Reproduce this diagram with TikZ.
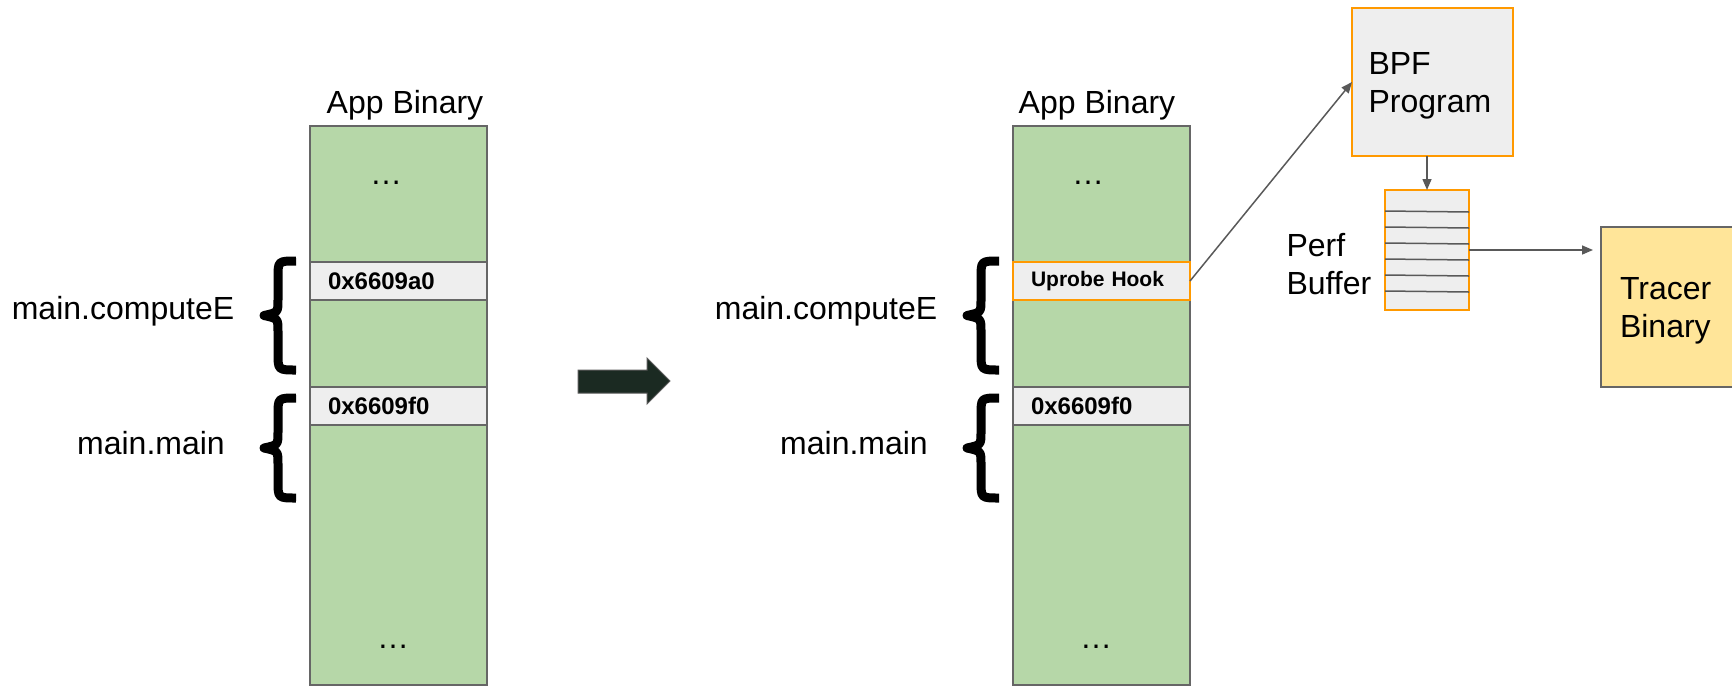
\documentclass[tikz,border=0pt]{standalone}
\usepackage{fontspec}
\setmainfont{Liberation Sans}
\usetikzlibrary{arrows.meta}
\definecolor{binGreen}{RGB}{182,215,168}
\definecolor{boxGray}{RGB}{238,238,238}
\definecolor{edgeGray}{RGB}{102,102,102}
\definecolor{hookOrange}{RGB}{255,153,0}
\definecolor{tracerYellow}{RGB}{255,229,153}
\definecolor{arrowDark}{RGB}{27,42,34}
\definecolor{connGray}{RGB}{89,89,89}
\newcommand\mybrace[3]{%
  \draw[line width=9pt, line join=round]
    ({#1+36},{#2+5}) .. controls ({#1+18},{#2+5}) .. ({#1+18},{#2+22})
    -- ({#1+18},{(#2+#3)/2-16}) .. controls ({#1+18},{(#2+#3)/2-3}) .. ({#1+4},{(#2+#3)/2})
    .. controls ({#1+18},{(#2+#3)/2+3}) .. ({#1+18},{(#2+#3)/2+16})
    -- ({#1+18},{#3-22}) .. controls ({#1+18},{#3-5}) .. ({#1+36},{#3-5});
}
\begin{document}
\begin{tikzpicture}[x=1pt,y=-1pt,
  every node/.style={inner sep=0pt, outer sep=0pt},
  lbl/.style={font=\fontsize{32}{38}\selectfont},
  column/.style={draw=edgeGray, line width=1.5pt, fill=binGreen, minimum width=177pt, minimum height=559pt, anchor=north west},
  addr/.style={draw=edgeGray, line width=1.5pt, fill=boxGray, minimum height=38pt, text width=141pt, inner xsep=18pt, align=left, anchor=north west, font=\fontsize{24}{27}\selectfont\bfseries},
  hook/.style={addr, draw=hookOrange, font=\fontsize{21}{24}\selectfont\bfseries},
  orangebox/.style={draw=hookOrange, line width=2pt, fill=boxGray, anchor=north west},
  conn/.style={draw=connGray, line width=1.5pt, -{Triangle[length=11pt,width=9pt]}},
]
\useasboundingbox (0,0) rectangle (1732,686);
\clip (0,0) rectangle (1732,686);

% ---------- left: original binary ----------
\node[column] (colA) at (310,126) {};
\node[lbl, anchor=base] (titleA) at (405,113) {App Binary};
\node[lbl, anchor=base] (dotsA1) at (386,184) {…};
\node[addr] (addrA1) at (310,262) {0x6609a0};
\node[addr] (addrA2) at (310,387) {0x6609f0};
\node[lbl, anchor=base] (dotsA2) at (393,648) {…};
\mybrace{260}{256}{375}
\mybrace{260}{393}{503}
\node[lbl, anchor=base] (nameA1) at (123,319) {main.computeE};
\node[lbl, anchor=base] (nameA2) at (151,454) {main.main};

% ---------- big arrow ----------
\filldraw[fill=arrowDark, draw=connGray, line width=1pt]
  (578,370) -- (647,370) -- (647,358) -- (670,381) -- (647,404) -- (647,393) -- (578,393) -- cycle;

% ---------- right: instrumented binary ----------
\node[column] (colB) at (1013,126) {};
\node[lbl, anchor=base] (titleB) at (1097,113) {App Binary};
\node[lbl, anchor=base] (dotsB1) at (1088,184) {…};
\node[hook] (hookB) at (1013,262) {Uprobe Hook};
\node[addr] (addrB2) at (1013,387) {0x6609f0};
\node[lbl, anchor=base] (dotsB2) at (1096,648) {…};
\mybrace{963}{256}{375}
\mybrace{963}{393}{503}
\node[lbl, anchor=base] (nameB1) at (826,319) {main.computeE};
\node[lbl, anchor=base] (nameB2) at (854,454) {main.main};

% ---------- BPF side ----------
\node[orangebox, minimum width=161pt, minimum height=148pt] (bpf) at (1352,8) {};
\node[lbl, align=left, anchor=west] (bpfText) at (1368.5,85.5) {BPF\\Program};
\node[orangebox, minimum width=84pt, minimum height=120pt] (perf) at (1385,190) {};
\foreach \d in {21,37,53,69,85,101}
  \draw[connGray, line width=1.5pt] ([yshift=-\d pt]perf.north west) -- ([yshift=-\d pt-1pt]perf.north east);
\node[lbl, align=left, anchor=west] (perfLbl) at (1286.5,264.3) {Perf\\Buffer};
\node[draw=edgeGray, line width=1.5pt, fill=tracerYellow, minimum width=160pt, minimum height=160pt, anchor=north west] (tracer) at (1601,227) {};
\node[lbl, align=left, anchor=west] (tracerText) at (1620,310.4) {Tracer\\Binary};

% ---------- connectors ----------
\draw[conn] (hookB.east) -- (bpf.west);
\draw[conn] (bpf.south -| perf.north) -- (perf.north);
\draw[conn, shorten >=8pt] (perf.east) -- (perf.east -| tracer.west);
\end{tikzpicture}
\end{document}
